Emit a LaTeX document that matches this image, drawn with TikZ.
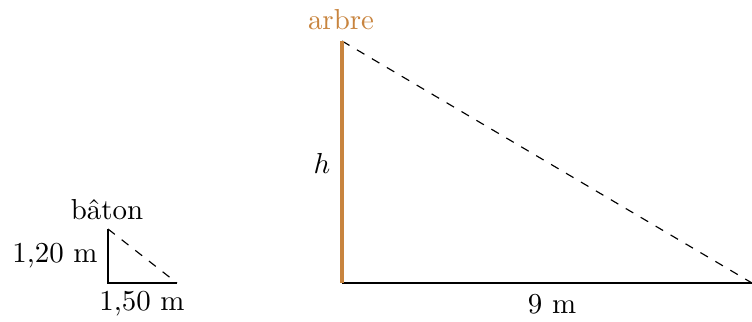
\documentclass[tikz,border=0pt]{standalone}
\begin{document}
\begin{tikzpicture}[x=0.346pt,y=-0.346pt,
  side/.style={line width=0.8pt},
  hyp/.style={dashed,line width=0.4pt},
  lbl/.style={inner sep=0pt}]
\definecolor{treecol}{RGB}{200,132,62}
\useasboundingbox (0,0) rectangle (752,321);
% stick
\coordinate (sT) at (108,229);
\coordinate (sB) at (108,283);
\coordinate (sR) at (177,283);
\draw[side] (sT) -- (sB) -- (sR);
\draw[hyp] (sT) -- (sR);
\node[lbl] (baton) at (107,210) {bâton};
\node[lbl] (s1) at (55,256) {1,20 m};
\node[lbl] (s2) at (142,304) {1,50 m};
% tree
\coordinate (tT) at (342,41);
\coordinate (tB) at (342,283);
\coordinate (tR) at (752,283);
\draw[hyp] (tT) -- (tR);
\draw[side] (tB) -- (tR);
\draw[line width=1.2pt,treecol] (tT) -- (tB);
\node[lbl,text=treecol] (arbre) at (341,20) {arbre};
\node[lbl] (h) at (322,163) {$h$};
\node[lbl] (nine) at (552,304) {9 m};
\end{tikzpicture}
\end{document}
